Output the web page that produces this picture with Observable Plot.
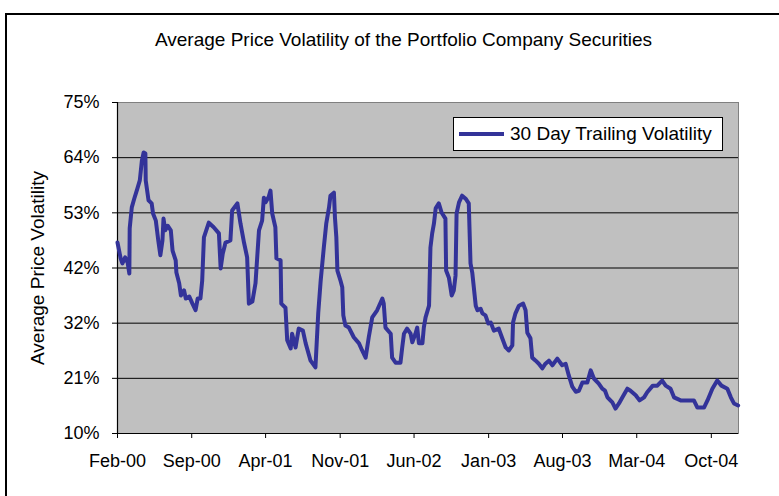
<!DOCTYPE html>
<html>
<head>
<meta charset="utf-8">
<script src="https://cdn.jsdelivr.net/npm/d3@7"></script>
<script src="https://cdn.jsdelivr.net/npm/@observablehq/plot@0.6"></script>
<style>
  html, body { margin: 0; padding: 0; background: #fff; }
  #wrap { position: relative; width: 779px; height: 496px; overflow: hidden; font-family: "Liberation Sans", Arial, sans-serif; color: #000; }
  #chart { position: absolute; left: 0; top: 0; }
  #frame { position: absolute; left: 5px; top: 13px; width: 820px; height: 520px; border: 2px solid #000; box-sizing: border-box; }
  #title { position: absolute; left: 0; width: 807px; top: 29px; line-height: 22px; text-align: center; font-size: 19px; }
  #ylab { position: absolute; left: 38px; top: 268px; transform: translate(-50%, -50%) rotate(-90deg); white-space: nowrap; font-size: 19px; line-height: 22px; }
  #legend { position: absolute; left: 453px; top: 117px; width: 270px; height: 34px; box-sizing: border-box; border: 1px solid #000; background: #fff; }
  #legend .swatch { position: absolute; left: 5px; top: 14px; width: 45px; height: 4px; background: #333399; }
  #legend .lab { position: absolute; left: 56px; top: 5px; line-height: 22px; font-size: 19px; white-space: nowrap; }
</style>
</head>
<body>
<div id="wrap">
  <div id="chart"></div>
  <div id="frame"></div>
  <div id="title">Average Price Volatility of the Portfolio Company Securities</div>
  <div id="ylab">Average Price Volatility</div>
  <div id="legend"><div class="swatch"></div><div class="lab">30 Day Trailing Volatility</div></div>
</div>
<script>
const seriesName = "30 Day Trailing Volatility";

const dates = [
  "2000-02-01","2000-02-10","2000-02-15","2000-02-23","2000-03-01","2000-03-06","2000-03-07","2000-03-13","2000-03-20","2000-03-29",
  "2000-04-05","2000-04-11","2000-04-16","2000-04-21","2000-04-22","2000-04-30","2000-05-09","2000-05-13","2000-05-21","2000-05-28",
  "2000-06-03","2000-06-09","2000-06-12","2000-06-17","2000-06-24","2000-07-03","2000-07-08","2000-07-17","2000-07-19","2000-07-27",
  "2000-08-01","2000-08-10","2000-08-15","2000-08-25","2000-09-03","2000-09-12","2000-09-18","2000-09-26","2000-10-01","2000-10-06",
  "2000-10-20","2000-11-03","2000-11-18","2000-11-23","2000-11-29","2000-12-07","2000-12-21","2000-12-26","2001-01-10","2001-01-19",
  "2001-01-29","2001-02-07","2001-02-12","2001-02-22","2001-03-03","2001-03-13","2001-03-22","2001-03-27","2001-04-01","2001-04-10",
  "2001-04-15","2001-04-20","2001-04-29","2001-05-02","2001-05-14","2001-05-16","2001-05-28","2001-06-02","2001-06-12","2001-06-16",
  "2001-06-26","2001-07-05","2001-07-17","2001-07-25","2001-08-08","2001-08-22","2001-08-30","2001-09-06","2001-09-15","2001-09-22",
  "2001-09-30","2001-10-04","2001-10-14","2001-10-17","2001-10-21","2001-10-24","2001-11-02","2001-11-07","2001-11-10","2001-11-16",
  "2001-11-26","2001-12-10","2001-12-25","2002-01-03","2002-01-13","2002-01-22","2002-02-01","2002-02-15","2002-03-02","2002-03-06",
  "2002-03-11","2002-03-26","2002-03-30","2002-04-09","2002-04-23","2002-04-28","2002-05-03","2002-05-12","2002-05-22","2002-05-27",
  "2002-06-05","2002-06-10","2002-06-15","2002-06-25","2002-06-29","2002-07-04","2002-07-14","2002-07-18","2002-07-23","2002-07-28",
  "2002-08-02","2002-08-11","2002-08-19","2002-08-30","2002-09-01","2002-09-09","2002-09-17","2002-09-23","2002-09-28","2002-10-01",
  "2002-10-08","2002-10-17","2002-10-27","2002-11-05","2002-11-10","2002-11-15","2002-11-25","2002-11-30","2002-12-09","2002-12-14",
  "2002-12-23","2002-12-31","2003-01-07","2003-01-16","2003-01-30","2003-02-09","2003-02-19","2003-02-28","2003-03-10","2003-03-12",
  "2003-03-19","2003-03-29","2003-04-10","2003-04-17","2003-04-22","2003-05-01","2003-05-06","2003-05-16","2003-05-25","2003-06-04",
  "2003-06-13","2003-06-23","2003-07-03","2003-07-17","2003-07-31","2003-08-10","2003-08-19","2003-08-29","2003-09-08","2003-09-17",
  "2003-09-27","2003-10-11","2003-10-21","2003-10-30","2003-11-13","2003-11-23","2003-12-01","2003-12-08","2003-12-22","2003-12-31",
  "2004-01-10","2004-01-20","2004-02-03","2004-02-12","2004-02-27","2004-03-09","2004-03-22","2004-03-31","2004-04-16","2004-04-29",
  "2004-05-13","2004-05-23","2004-06-06","2004-06-16","2004-07-05","2004-07-24","2004-08-12","2004-08-22","2004-09-10","2004-09-20",
  "2004-10-04","2004-10-18","2004-10-30","2004-11-16","2004-11-26","2004-12-05","2004-12-17"
];

const volatility = [
  47.5,44.4,43.4,44.6,43.6,41.4,50.3,54.4,56.1,58.1,
  59.7,63.6,65.2,65.0,59.7,55.8,55.2,53.2,51.8,47.9,
  45.0,47.9,52.2,49.9,50.8,49.9,45.9,44.0,41.6,39.5,
  37.1,38.1,36.5,36.9,35.5,34.2,36.5,36.5,40.0,48.5,
  51.4,50.5,49.3,42.4,45.3,47.5,47.9,53.8,55.2,51.2,
  47.5,44.6,35.5,35.9,39.5,49.9,51.8,56.3,55.4,56.5,
  57.7,53.2,50.5,44.4,44.0,35.5,34.7,28.3,26.7,29.6,
  26.9,30.6,30.2,27.7,24.3,23.0,33.6,40.0,46.5,51.2,
  54.4,56.7,57.3,52.4,48.5,42.0,40.0,38.7,33.2,31.2,
  30.8,28.9,27.7,26.3,24.9,28.9,32.8,34.2,36.5,35.5,
  30.8,29.6,24.9,23.9,23.9,26.9,29.6,30.6,29.6,27.9,
  29.6,30.8,27.7,27.7,30.8,32.8,35.1,46.5,49.3,51.2,
  54.2,55.2,53.4,52.2,42.0,40.6,37.1,38.1,41.0,53.2,
  55.4,56.7,56.1,55.2,43.4,41.6,35.1,34.2,34.5,33.6,
  33.2,31.6,31.8,30.2,30.6,28.7,26.9,26.3,27.3,31.8,
  33.6,35.1,35.5,34.2,29.8,28.7,24.9,24.3,23.7,22.8,
  23.7,24.3,23.4,24.7,23.4,23.7,21.4,19.2,18.2,18.4,
  20.0,20.0,22.4,20.8,19.8,18.8,18.4,17.1,16.1,14.9,
  15.9,17.1,18.8,18.4,17.5,16.5,17.1,18.1,19.4,19.4,
  20.4,19.4,18.8,17.1,16.5,16.5,16.5,15.1,15.1,16.5,
  18.8,20.4,19.4,18.8,17.1,15.9,15.5
];

const xDomain = ["2000-02-01", "2004-12-18"];
const xTickDates = ["2000-02-01","2000-09-01","2001-04-01","2001-11-01","2002-06-01","2003-01-01","2003-08-01","2004-03-01","2004-10-01"];
const xTickLabels = ["Feb-00","Sep-00","Apr-01","Nov-01","Jun-02","Jan-03","Aug-03","Mar-04","Oct-04"];

const yDomain = [10, 75];
const yTicks = [10, 20.8333, 31.6667, 42.5, 53.3333, 64.1667, 75];
const yTickLabels = ["10%","21%","32%","42%","53%","64%","75%"];

const data = dates.map((d, i) => ({date: d3.isoParse(d), vol: volatility[i], series: seriesName}));
const xTicks = xTickDates.map(d3.isoParse);
const xLabelMap = new Map(xTicks.map((d, i) => [+d, xTickLabels[i]]));
const yLabelMap = new Map(yTicks.map((d, i) => [d, yTickLabels[i]]));
const x0 = d3.isoParse(xDomain[0]);

const chart = Plot.plot({
  width: 779,
  height: 496,
  marginTop: 102,
  marginRight: 41,
  marginBottom: 63,
  marginLeft: 117,
  style: {fontFamily: "'Liberation Sans', Arial, sans-serif", fontSize: "18px", background: "transparent", color: "#000"},
  x: {type: "utc", domain: xDomain.map(d3.isoParse)},
  y: {domain: yDomain},
  marks: [
    Plot.frame({fill: "#c0c0c0", stroke: "#808080", strokeWidth: 1}),
    Plot.gridY(yTicks.slice(1, -1), {stroke: "#000", strokeOpacity: 1, strokeWidth: 1}),
    Plot.axisY(yTicks, {tickFormat: d => yLabelMap.get(d), tickSize: 5, tickPadding: 13, label: null, stroke: "#000", strokeWidth: 1}),
    Plot.axisX(xTicks, {tickFormat: d => xLabelMap.get(+d), tickSize: 5, tickPadding: 16, label: null, stroke: "#000", strokeWidth: 1}),
    Plot.ruleY([yDomain[0]], {stroke: "#000", strokeWidth: 1.2}),
    Plot.ruleX([x0], {stroke: "#000", strokeWidth: 1.2}),
    Plot.lineY(data, {x: "date", y: "vol", stroke: "#333399", strokeWidth: 4, strokeLinejoin: "round"})
  ]
});
document.getElementById("chart").appendChild(chart);
</script>
</body>
</html>
